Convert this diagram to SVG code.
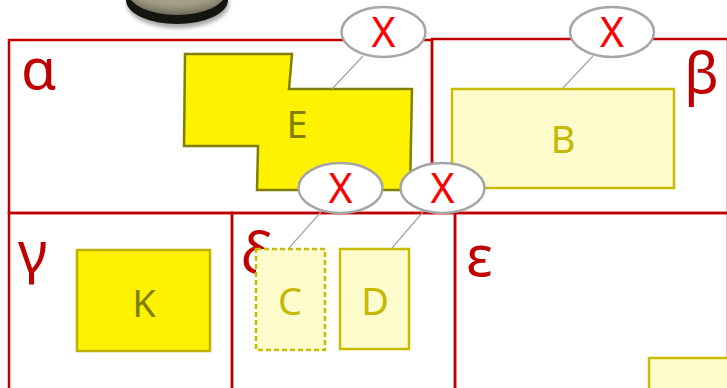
<svg xmlns="http://www.w3.org/2000/svg" width="727" height="388" viewBox="0 0 727 388">
<defs>
<style>
.frame{fill:none;stroke:#C00000;stroke-width:2.5}
.greek{font-family:"Noto Sans","DejaVu Sans",sans-serif;font-size:57px;fill:#C00000}
.lbl{font-family:"Noto Sans","Open Sans",sans-serif;font-size:38px;text-anchor:middle}
.dark{fill:#7F7F00}
.light{fill:#C4B800}
.yel{fill:#FFF200;stroke:#BDB000;stroke-width:2.5}
.pale{fill:#FEFBCC;stroke:#C8BC00;stroke-width:2.5}
.bubble{fill:#FFFFFF;stroke:#A6A6A6;stroke-width:2.5}
.x{font-family:"Noto Sans","Open Sans",sans-serif;font-size:41px;fill:#FF0000;text-anchor:middle}
.lead{stroke:#A6A6A6;stroke-width:1.2;fill:none}
</style>
<radialGradient id="coin" cx="0.5" cy="0.3" r="0.7">
<stop offset="0" stop-color="#B4B096"/>
<stop offset="0.7" stop-color="#A09C84"/>
<stop offset="1" stop-color="#6E6C5C"/>
</radialGradient>
<filter id="blur" x="-20%" y="-50%" width="140%" height="200%"><feGaussianBlur stdDeviation="2"/></filter>
</defs>
<rect width="727" height="388" fill="#FFFFFF"/>
<g id="coin-image">
<ellipse cx="178" cy="4" rx="51" ry="24" fill="#000" opacity="0.35" filter="url(#blur)"/>
<ellipse cx="177" cy="0" rx="51" ry="24" fill="#151510"/>
<ellipse cx="177" cy="-8" rx="49" ry="23" fill="url(#coin)"/>
</g>
<g id="regions">
<g id="alpha"><rect class="frame" x="9" y="40" width="423" height="173"/><text class="greek" x="21" y="89">α</text></g>
<g id="beta"><rect class="frame" x="432" y="39" width="296" height="174"/><text class="greek" x="684" y="93">β</text></g>
<g id="gamma"><rect class="frame" x="9" y="213" width="223" height="180"/><text class="greek" x="18" y="272">γ</text></g>
<g id="delta"><rect class="frame" x="232" y="213" width="223" height="180"/><text class="greek" x="241" y="273">δ</text></g>
<g id="epsilon"><rect class="frame" x="455" y="213" width="273" height="180"/><text class="greek" x="466" y="276">ε</text></g>
</g>
<g id="E"><polygon fill="#FFF200" stroke="#7F7F00" stroke-width="2.5" points="185,54 292,54 289,89 412,89 410,190 257,190 258,146 184,146"/><text class="lbl dark" x="297" y="138">E</text></g>
<g id="B"><rect class="pale" x="452" y="89" width="222" height="99"/><text class="lbl light" x="563" y="153">B</text></g>
<g id="K"><rect class="yel" x="77" y="250" width="133" height="101"/><text class="lbl dark" x="144" y="317">K</text></g>
<g id="C"><rect class="pale" x="256" y="249" width="69" height="101" stroke-dasharray="5,3"/><text class="lbl light" x="290" y="315">C</text></g>
<g id="D"><rect class="pale" x="340" y="249" width="69" height="100"/><text class="lbl light" x="375" y="315">D</text></g>
<g id="F"><rect class="pale" x="649" y="358" width="90" height="40"/></g>
<g id="connectors">
<line class="lead" x1="363" y1="56" x2="332" y2="89"/>
<line class="lead" x1="593" y1="56" x2="562" y2="89"/>
<line class="lead" x1="321" y1="212" x2="289" y2="248"/>
<line class="lead" x1="423" y1="212" x2="392" y2="248"/>
</g>
<g id="callout1"><ellipse class="bubble" cx="383.5" cy="32" rx="42" ry="25"/><text class="x" x="383.5" y="47">X</text></g>
<g id="callout2"><ellipse class="bubble" cx="612" cy="32" rx="42" ry="25"/><text class="x" x="612" y="47">X</text></g>
<g id="callout3"><ellipse class="bubble" cx="340.5" cy="188" rx="42" ry="25"/><text class="x" x="340.5" y="203">X</text></g>
<g id="callout4"><ellipse class="bubble" cx="442.5" cy="188" rx="42" ry="25"/><text class="x" x="442.5" y="203">X</text></g>
</svg>
